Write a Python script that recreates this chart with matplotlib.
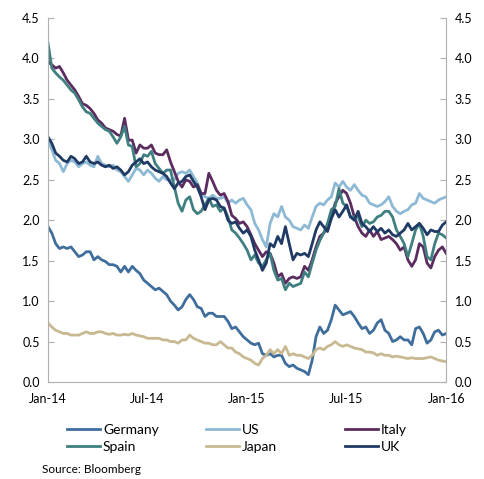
import numpy as np
import pandas as pd
import matplotlib
matplotlib.use('Agg')
import matplotlib.pyplot as plt
import matplotlib.dates as mdates

plt.rcParams['font.family'] = ['Lato', 'DejaVu Sans']

# 10-year government bond yields (%), weekly
dates = pd.date_range('2014-01-01', '2016-01-01', periods=105)

italy = [3.96, 3.92, 3.88, 3.90, 3.82, 3.73, 3.67, 3.61, 3.53, 3.44, 3.42, 3.38, 3.32, 3.24, 3.20,
         3.14, 3.12, 3.10, 3.06, 3.04, 3.26, 2.99, 2.99, 2.83, 2.93, 2.89, 2.89, 2.93, 2.83, 2.81,
         2.81, 2.87, 2.72, 2.60, 2.48, 2.41, 2.50, 2.48, 2.41, 2.44, 2.33, 2.33, 2.58, 2.48, 2.37,
         2.31, 2.33, 2.23, 2.06, 2.02, 1.96, 1.98, 1.92, 1.82, 1.71, 1.63, 1.55, 1.61, 1.59, 1.47,
         1.30, 1.34, 1.22, 1.28, 1.30, 1.28, 1.30, 1.43, 1.38, 1.51, 1.67, 1.80, 1.84, 1.92, 2.04,
         2.21, 2.29, 2.37, 2.33, 2.21, 2.04, 1.92, 1.84, 1.80, 1.88, 1.80, 1.86, 1.76, 1.78, 1.80,
         1.76, 1.71, 1.63, 1.67, 1.51, 1.43, 1.51, 1.71, 1.67, 1.47, 1.41, 1.55, 1.63, 1.67, 1.59]

spain = [4.19, 3.88, 3.82, 3.77, 3.73, 3.67, 3.61, 3.57, 3.49, 3.40, 3.34, 3.32, 3.26, 3.20, 3.16,
         3.12, 3.10, 3.03, 2.95, 3.03, 3.16, 2.93, 2.91, 2.66, 2.70, 2.81, 2.79, 2.85, 2.70, 2.64,
         2.58, 2.62, 2.62, 2.41, 2.21, 2.11, 2.25, 2.29, 2.13, 2.08, 2.11, 2.19, 2.27, 2.17, 2.19,
         2.11, 2.15, 2.04, 1.88, 1.84, 1.78, 1.71, 1.63, 1.51, 1.57, 1.47, 1.43, 1.51, 1.59, 1.38,
         1.26, 1.28, 1.14, 1.22, 1.18, 1.20, 1.22, 1.36, 1.30, 1.47, 1.63, 1.75, 1.84, 1.96, 2.13,
         2.17, 2.39, 2.21, 2.17, 2.04, 2.04, 2.04, 1.92, 2.00, 1.96, 1.98, 2.04, 2.06, 2.11, 2.11,
         2.04, 1.88, 1.80, 1.71, 1.55, 1.71, 1.88, 1.96, 1.80, 1.55, 1.51, 1.71, 1.84, 1.82, 1.78]

uk = [3.03, 2.95, 2.83, 2.79, 2.74, 2.72, 2.79, 2.76, 2.70, 2.72, 2.79, 2.72, 2.70, 2.72, 2.68,
      2.66, 2.68, 2.64, 2.66, 2.62, 2.56, 2.60, 2.68, 2.72, 2.76, 2.70, 2.72, 2.66, 2.62, 2.60,
      2.58, 2.54, 2.46, 2.39, 2.46, 2.48, 2.54, 2.56, 2.48, 2.41, 2.29, 2.13, 2.25, 2.27, 2.25,
      2.17, 2.15, 2.00, 1.96, 1.98, 1.90, 1.84, 1.88, 1.80, 1.63, 1.51, 1.38, 1.47, 1.71, 1.67,
      1.80, 1.71, 1.92, 1.71, 1.51, 1.59, 1.57, 1.59, 1.55, 1.71, 1.88, 1.98, 1.92, 1.86, 2.02,
      2.13, 2.04, 2.11, 2.19, 2.04, 2.00, 2.11, 1.96, 1.92, 1.86, 1.92, 1.86, 1.90, 1.84, 1.88,
      1.82, 1.80, 1.84, 1.88, 1.96, 1.88, 1.92, 1.96, 1.90, 1.82, 1.88, 1.86, 1.86, 1.94, 1.98]

us = [2.99, 2.87, 2.74, 2.70, 2.60, 2.70, 2.74, 2.72, 2.66, 2.70, 2.72, 2.68, 2.66, 2.79, 2.70,
      2.68, 2.66, 2.68, 2.62, 2.60, 2.54, 2.48, 2.56, 2.64, 2.62, 2.56, 2.62, 2.58, 2.52, 2.48,
      2.54, 2.50, 2.50, 2.50, 2.58, 2.60, 2.58, 2.62, 2.54, 2.46, 2.33, 2.29, 2.27, 2.31, 2.27,
      2.27, 2.29, 2.21, 2.25, 2.21, 2.25, 2.27, 2.19, 2.13, 1.96, 1.88, 1.76, 1.67, 1.96, 2.08,
      2.04, 2.17, 2.04, 2.00, 1.92, 1.90, 1.88, 1.94, 1.90, 2.04, 2.17, 2.21, 2.19, 2.25, 2.29,
      2.46, 2.41, 2.48, 2.41, 2.37, 2.44, 2.37, 2.31, 2.29, 2.21, 2.19, 2.17, 2.19, 2.23, 2.29,
      2.17, 2.11, 2.08, 2.11, 2.13, 2.19, 2.21, 2.33, 2.27, 2.25, 2.23, 2.21, 2.25, 2.27, 2.29]

germany = [1.92, 1.84, 1.71, 1.65, 1.67, 1.65, 1.67, 1.61, 1.55, 1.57, 1.61, 1.61, 1.51, 1.55, 1.51,
           1.49, 1.45, 1.45, 1.43, 1.36, 1.43, 1.36, 1.43, 1.38, 1.34, 1.26, 1.22, 1.18, 1.14, 1.16,
           1.12, 1.08, 1.00, 0.95, 0.89, 0.93, 1.02, 1.08, 1.02, 0.93, 0.91, 0.81, 0.85, 0.85, 0.81,
           0.81, 0.81, 0.75, 0.66, 0.68, 0.62, 0.56, 0.52, 0.48, 0.46, 0.48, 0.35, 0.33, 0.35, 0.31,
           0.33, 0.33, 0.23, 0.19, 0.21, 0.17, 0.15, 0.13, 0.09, 0.27, 0.56, 0.68, 0.60, 0.64, 0.77,
           0.95, 0.89, 0.83, 0.85, 0.87, 0.81, 0.73, 0.66, 0.68, 0.60, 0.64, 0.73, 0.77, 0.64, 0.60,
           0.50, 0.52, 0.56, 0.52, 0.52, 0.46, 0.66, 0.68, 0.60, 0.48, 0.52, 0.62, 0.64, 0.58, 0.60]

japan = [0.73, 0.68, 0.64, 0.62, 0.60, 0.60, 0.58, 0.58, 0.58, 0.60, 0.62, 0.60, 0.60, 0.62, 0.62,
         0.60, 0.59, 0.60, 0.58, 0.58, 0.59, 0.58, 0.60, 0.58, 0.57, 0.56, 0.54, 0.54, 0.54, 0.54,
         0.52, 0.52, 0.50, 0.50, 0.48, 0.52, 0.52, 0.58, 0.54, 0.52, 0.50, 0.48, 0.48, 0.46, 0.46,
         0.50, 0.46, 0.42, 0.42, 0.37, 0.35, 0.31, 0.29, 0.27, 0.23, 0.21, 0.29, 0.33, 0.40, 0.35,
         0.40, 0.35, 0.44, 0.33, 0.35, 0.33, 0.33, 0.31, 0.29, 0.33, 0.40, 0.42, 0.40, 0.44, 0.46,
         0.50, 0.46, 0.44, 0.46, 0.44, 0.42, 0.41, 0.40, 0.37, 0.37, 0.36, 0.33, 0.35, 0.33, 0.33,
         0.31, 0.32, 0.31, 0.30, 0.29, 0.30, 0.29, 0.29, 0.29, 0.30, 0.31, 0.29, 0.27, 0.26, 0.25]

names = ['Germany', 'US', 'Italy', 'Spain', 'Japan', 'UK']
series = [germany, us, italy, spain, japan, uk]
colors = ['#3F6E9C', '#8DB9D4', '#5B2C5F', '#3F7F80', '#C8B992', '#1F3A64']

fig = plt.figure(figsize=(4.85, 4.79), dpi=100)
ax = fig.add_axes([0.099, 0.2025, 0.821, 0.76])

lines = {}
for name, vals, c in zip(names, series, colors):
    lines[name], = ax.plot(dates, vals, color=c, lw=2.0, solid_joinstyle='round')

ax.set_ylim(0, 4.5)
ax.set_yticks(np.arange(0, 4.51, 0.5))
ax.yaxis.set_major_formatter(matplotlib.ticker.FormatStrFormatter('%.1f'))
ax.set_xlim(pd.Timestamp('2014-01-01'), pd.Timestamp('2016-01-01'))
ax.set_xticks(pd.to_datetime(['2014-01-01', '2014-07-01', '2015-01-01', '2015-07-01', '2016-01-01']))
ax.xaxis.set_major_formatter(mdates.DateFormatter('%b-%y'))

for s in ['left', 'right', 'bottom']:
    ax.spines[s].set_color('#b0b0b0')
ax.spines['top'].set_visible(False)
ax.tick_params(axis='y', direction='in', length=4, color='#b0b0b0', labelsize=9,
               right=True, labelright=True, pad=6)
ax.tick_params(axis='x', length=0, labelsize=9, pad=8)

# legend: three columns placed separately
cols = [('Germany', 'Spain', 0.138), ('US', 'Japan', 0.425), ('Italy', 'UK', 0.711)]
for a, b, x0 in cols:
    fig.legend([lines[a], lines[b]], [a, b], loc='upper left', bbox_to_anchor=(x0, 0.115),
               frameon=False, fontsize=10, handlelength=2.4, handletextpad=0.2,
               labelspacing=0.38, borderpad=0, borderaxespad=0)

fig.text(0.087, 0.008, 'Source: Bloomberg', fontsize=8.5, ha='left', va='bottom')

fig.savefig('out.png', dpi=100)
